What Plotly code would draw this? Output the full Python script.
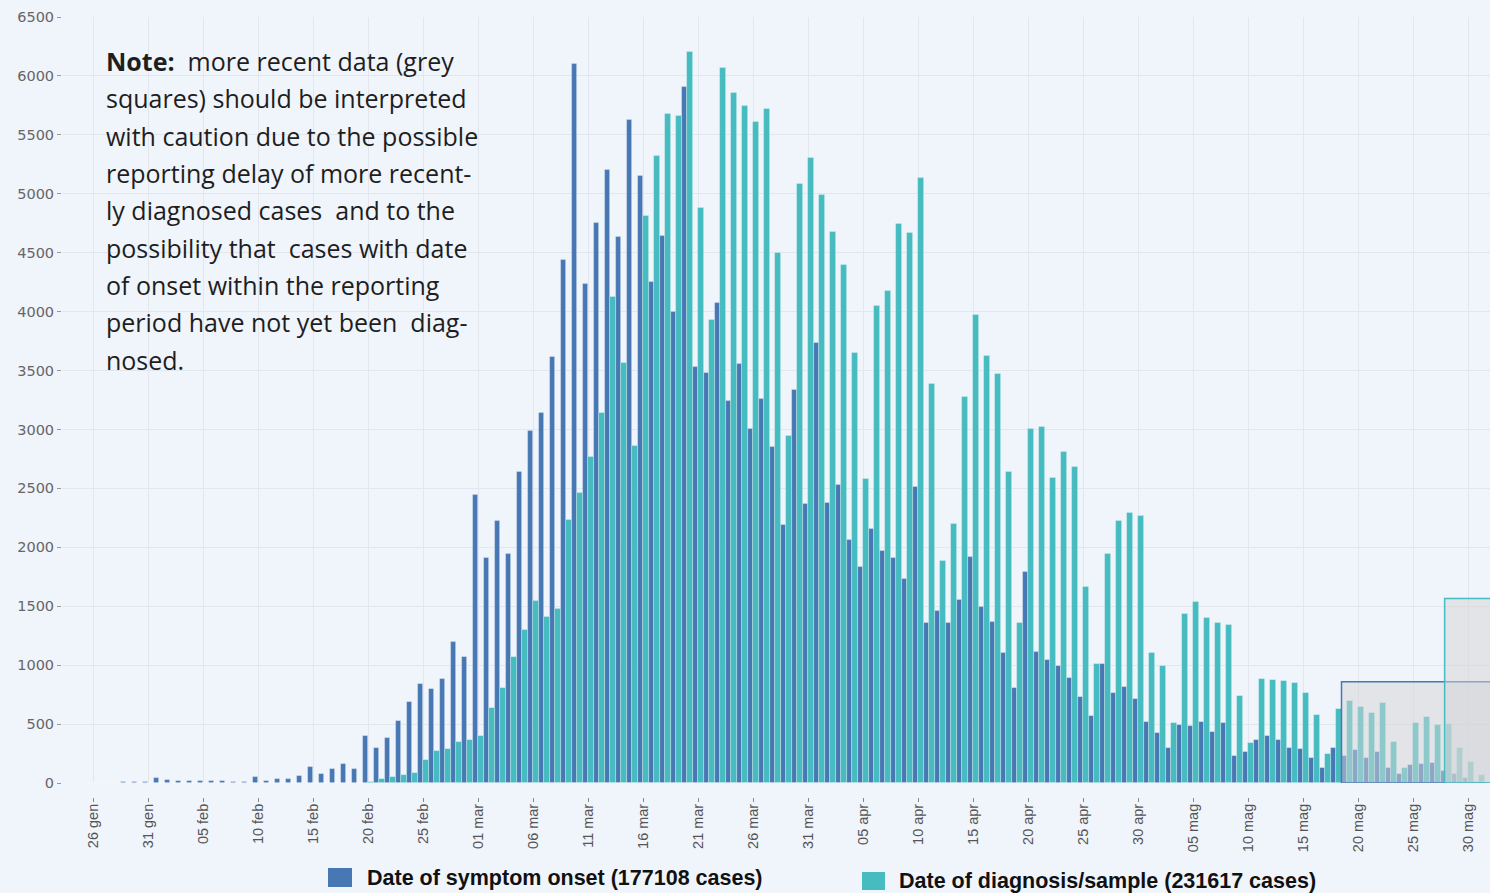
import pandas as pd
import plotly.graph_objects as go

# ---------------- data ----------------
start_date = "2020-01-26"
n_days = 127

onset = [0, 0, 0, 8, 10, 12, 45, 25, 20, 15,
         20, 20, 15, 8, 12, 53, 20, 33, 38, 60,
         137, 78, 120, 165, 120, 396, 301, 379, 526, 688,
         838, 799, 886, 1200, 1066, 2445, 1910, 2222, 1945, 2641,
         2983, 3142, 3612, 4442, 6100, 4235, 4748, 5200, 4635, 5622,
         5155, 4248, 4644, 3999, 5902, 3532, 3478, 4070, 3238, 3558,
         3007, 3256, 2847, 2188, 3335, 2370, 3734, 2378, 2528, 2062,
         1830, 2153, 1967, 1906, 1728, 2514, 1359, 1462, 1356, 1549,
         1917, 1492, 1367, 1102, 810, 1794, 1109, 1040, 989, 887,
         730, 566, 1014, 766, 817, 709, 519, 423, 295, 495,
         480, 520, 435, 505, 226, 262, 368, 401, 366, 298,
         290, 213, 125, 293, 227, 281, 213, 264, 125, 77,
         151, 162, 170, 105, 74, 43, 8]

diagnosis = [0, 0, 0, 2, 0, 0, 0, 0, 0, 0,
             0, 3, 0, 0, 0, 0, 0, 0, 0, 0,
             0, 0, 0, 0, 0, 5, 30, 50, 69, 85,
             192, 275, 285, 351, 364, 400, 634, 807, 1073, 1301,
             1545, 1407, 1475, 2230, 2463, 2770, 3142, 4128, 3562, 2860,
             4813, 5320, 5680, 5658, 6200, 4880, 3932, 6067, 5858, 5742,
             5613, 5720, 4497, 2944, 5080, 5300, 4988, 4678, 4397, 3645,
             2582, 4051, 4177, 4746, 4663, 5133, 3387, 1880, 2202, 3273,
             3975, 3622, 3467, 2641, 1358, 3006, 3024, 2592, 2810, 2678,
             1660, 1008, 1947, 2227, 2295, 2263, 1103, 990, 507, 1431,
             1535, 1400, 1358, 1344, 737, 343, 880, 875, 867, 847,
             761, 577, 244, 631, 699, 642, 591, 676, 344, 125,
             509, 557, 489, 497, 295, 176, 65]

tick_dates = ["2020-01-26", "2020-01-31", "2020-02-05", "2020-02-10", "2020-02-15",
              "2020-02-20", "2020-02-25", "2020-03-01", "2020-03-06", "2020-03-11",
              "2020-03-16", "2020-03-21", "2020-03-26", "2020-03-31", "2020-04-05",
              "2020-04-10", "2020-04-15", "2020-04-20", "2020-04-25", "2020-04-30",
              "2020-05-05", "2020-05-10", "2020-05-15", "2020-05-20", "2020-05-25",
              "2020-05-30"]
tick_labels = ["26 gen", "31 gen", "05 feb", "10 feb", "15 feb", "20 feb", "25 feb",
               "01 mar", "06 mar", "11 mar", "16 mar", "21 mar", "26 mar", "31 mar",
               "05 apr", "10 apr", "15 apr", "20 apr", "25 apr", "30 apr",
               "05 mag", "10 mag", "15 mag", "20 mag", "25 mag", "30 mag"]

y_ticks = list(range(0, 6501, 500))

# grey "recent data" boxes
onset_box_start = "2020-05-18 12:00"
onset_box_top = 860
diag_box_start = "2020-05-27 21:00"
diag_box_top = 1565
box_end = "2020-06-03"

x_range = ["2020-01-23 04:20", "2020-06-01 00:00"]

name_onset = "Date of symptom onset (177108 cases)"
name_diag = "Date of diagnosis/sample (231617 cases)"

note_lines = [
    "<b>Note:</b>  more recent data (grey",
    "squares) should be interpreted",
    "with caution due to the possible",
    "reporting delay of more recent-",
    "ly diagnosed cases  and to the",
    "possibility that  cases with date",
    "of onset within the reporting",
    "period have not yet been  diag-",
    "nosed.",
]

# ---------------- styling ----------------
BLUE = "#4878b4"
TEAL = "#47bcc0"
BG = "#f0f4fb"
GRID = "#e3e7ed"

W, H = 1490, 893
M_L, M_R, M_T, M_B = 62, 0, 17, 96
plot_bottom_px = 783
paper_h = H - M_T - M_B
paper_w = W - M_L - M_R


def py(px):
    return (H - M_B - px) / paper_h


def pxx(px):
    return (px - M_L) / paper_w


dates = pd.date_range(start_date, periods=n_days, freq="D")

fig = go.Figure()
fig.add_trace(go.Bar(x=dates, y=onset, name=name_onset, marker=dict(
    color=BLUE, line=dict(color="rgba(255,255,255,0.35)", width=0.8)), showlegend=False))
fig.add_trace(go.Bar(x=dates, y=diagnosis, name=name_diag, marker=dict(
    color=TEAL, line=dict(color="rgba(255,255,255,0.35)", width=0.8)), showlegend=False))

fig.update_layout(
    width=W, height=H,
    margin=dict(l=M_L, r=M_R, t=M_T, b=M_B),
    paper_bgcolor=BG, plot_bgcolor=BG,
    barmode="group", bargap=0.0, bargroupgap=0.0,
    xaxis=dict(
        type="date", range=x_range, anchor="free", position=0,
        tickmode="array", tickvals=tick_dates, ticktext=tick_labels,
        tickangle=-90, ticks="outside", ticklen=4, tickcolor="#888",
        ticklabelstandoff=-4,
        tickfont=dict(family="Liberation Sans, Arial", size=14.5, color="#555"),
        showgrid=True, gridcolor=GRID, gridwidth=1,
        showline=False, zeroline=False,
    ),
    yaxis=dict(
        range=[0, 6500], domain=[py(plot_bottom_px), 1],
        tickmode="array", tickvals=y_ticks,
        ticks="outside", ticklen=4, tickcolor="#999",
        tickfont=dict(family="DejaVu Sans", size=14.5, color="#666"),
        showgrid=True, gridcolor=GRID, gridwidth=1,
        showline=False, zeroline=False,
    ),
)

# grey boxes over recent data
fig.add_shape(type="rect", xref="x", yref="y", x0=onset_box_start, x1=box_end,
              y0=0, y1=onset_box_top, layer="above",
              fillcolor="rgba(212,212,214,0.5)", line=dict(color=BLUE, width=1.5))
fig.add_shape(type="rect", xref="x", yref="y", x0=diag_box_start, x1=box_end,
              y0=0, y1=diag_box_top, layer="above",
              fillcolor="rgba(212,212,214,0.5)", line=dict(color=TEAL, width=1.5))

# note text
for i, line in enumerate(note_lines):
    fig.add_annotation(xref="paper", yref="paper", x=pxx(104), y=py(61 + 37.35 * i),
                       xanchor="left", yanchor="middle", showarrow=False, text=line,
                       font=dict(family="Open Sans", size=25, color="#1e1e1e"), align="left")

# legend (manual, large swatches)
legend_items = [(name_onset, BLUE, 328, 352, 868, 887, 365, 878),
                (name_diag, TEAL, 862, 885, 872, 890, 897, 881)]
for name, col, sx0, sx1, sy0, sy1, tx, ty in legend_items:
    fig.add_shape(type="rect", xref="paper", yref="paper",
                  x0=pxx(sx0), x1=pxx(sx1), y0=py(sy1), y1=py(sy0),
                  fillcolor=col, line=dict(width=0))
    fig.add_annotation(xref="paper", yref="paper", x=pxx(tx), y=py(ty),
                       xanchor="left", yanchor="middle", showarrow=False,
                       text="<b>" + name + "</b>",
                       font=dict(family="Liberation Sans, Arial", size=21.5, color="#111"))

fig.write_html("out.html", config={"displayModeBar": False},
               post_script="document.body.style.margin='0';")
